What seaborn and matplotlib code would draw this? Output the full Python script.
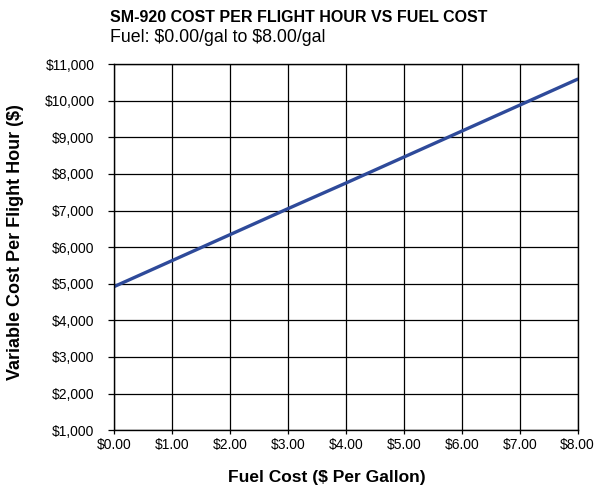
import matplotlib
matplotlib.use('Agg')
import matplotlib.pyplot as plt
import seaborn as sns
import pandas as pd
from matplotlib.ticker import FuncFormatter

fuel_price = [0, 1, 2, 3, 4, 5, 6, 7, 8]
cost_per_hour = [4920, 5630, 6340, 7050, 7750, 8460, 9170, 9880, 10590]

title = 'SM-920 COST PER FLIGHT HOUR VS FUEL COST'
subtitle = r'Fuel: \$0.00/gal to \$8.00/gal'

sns.set_style('white')
plt.rcParams['font.family'] = ['Liberation Sans', 'DejaVu Sans']
plt.rcParams['text.color'] = 'black'
plt.rcParams['axes.labelcolor'] = 'black'
plt.rcParams['xtick.color'] = 'black'
plt.rcParams['ytick.color'] = 'black'

df = pd.DataFrame({'fuel': fuel_price, 'cost': cost_per_hour})

fig = plt.figure(figsize=(6.03, 4.86), dpi=100)
ax = fig.add_axes([0.189, 0.115, 0.769, 0.753])

sns.lineplot(data=df, x='fuel', y='cost', ax=ax, color='#2E4A9A', linewidth=2.4)

ax.set_xlim(0, 8)
ax.set_ylim(1000, 11000)
ax.set_xticks(range(0, 9))
ax.set_yticks(range(1000, 11001, 1000))
ax.xaxis.set_major_formatter(FuncFormatter(lambda v, p: f'${v:.2f}'))
ax.yaxis.set_major_formatter(FuncFormatter(lambda v, p: f'${int(v):,}'))
ax.grid(True, color='black', linewidth=0.9)
for s in ax.spines.values():
    s.set_color('black')
    s.set_linewidth(1.0)
ax.tick_params(axis='both', direction='out', width=0.9, color='black',
               labelsize=10, bottom=True, left=True)
ax.tick_params(axis='x', length=3, pad=3)
ax.tick_params(axis='y', length=4, pad=10)

ax.set_xlabel('')
ax.set_ylabel('')
fig.text(327 / 603, 1 - 477 / 486, 'Fuel Cost ($ Per Gallon)', fontsize=12.5,
         fontweight='bold', ha='center', va='center')
fig.text(16 / 603, 1 - 242 / 486, 'Variable Cost Per Flight Hour ($)', fontsize=13,
         fontweight='bold', ha='center', va='center', rotation=90)

fig.text(110 / 603, 1 - 17 / 486, title, fontsize=11.5, fontweight='bold', va='center', ha='left')
fig.text(110 / 603, 1 - 37 / 486, subtitle, fontsize=12.8, va='center', ha='left')

fig.savefig('out.png', dpi=100)
